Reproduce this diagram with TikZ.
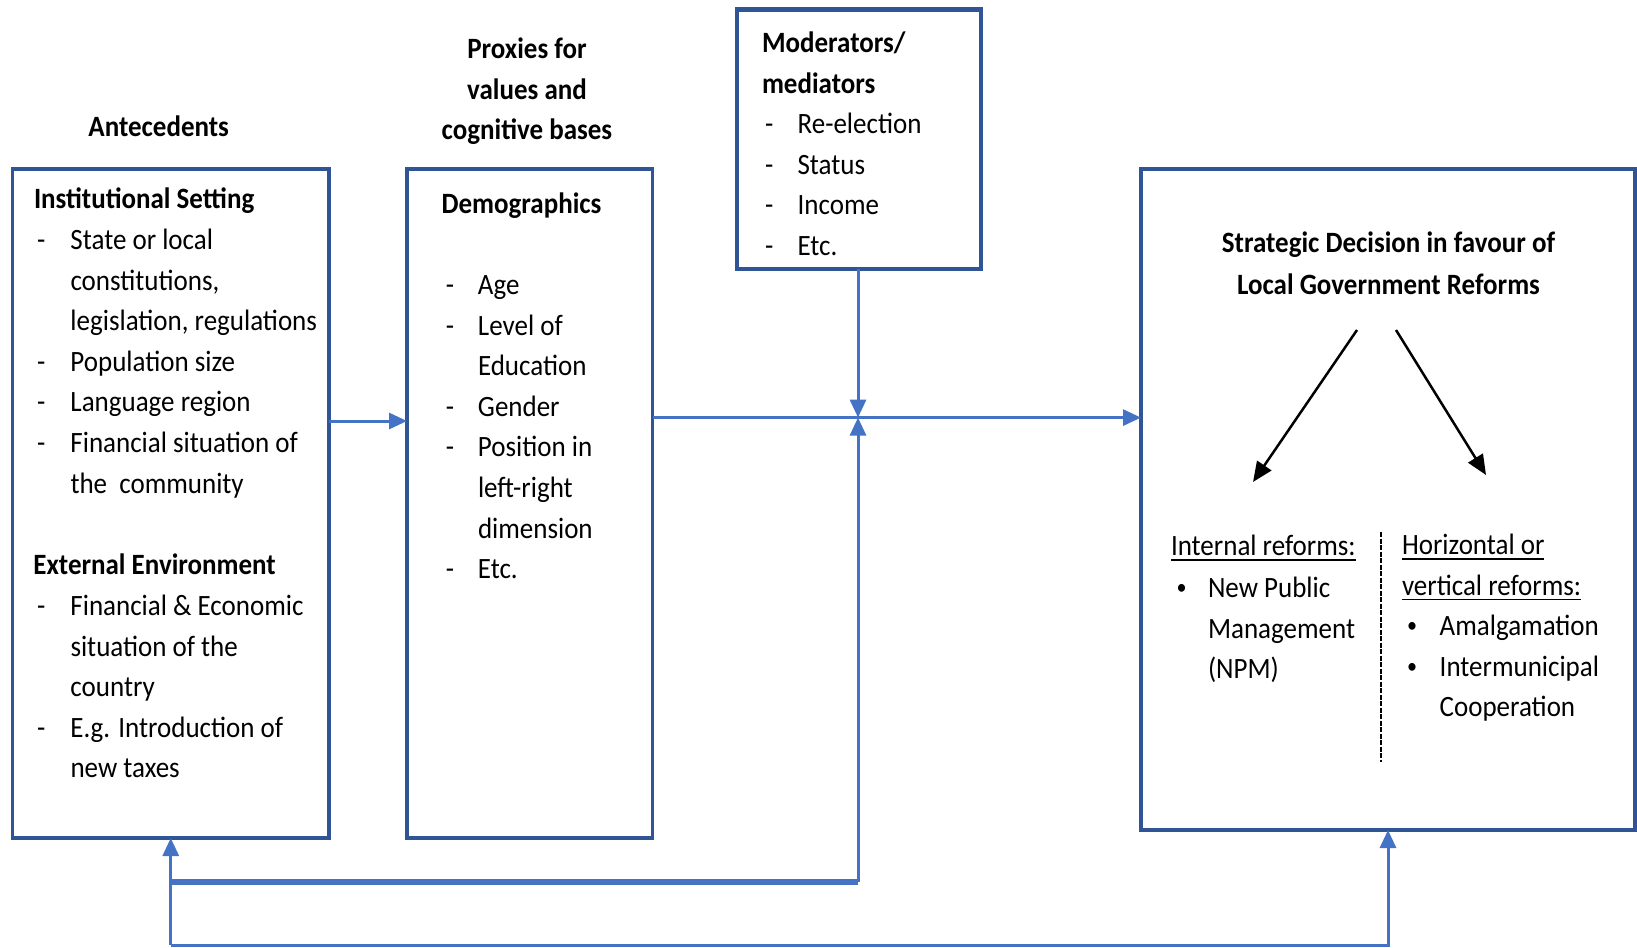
\documentclass[tikz,border=0pt]{standalone}
\usepackage{fontspec}
\setmainfont{Carlito}[FakeStretch=0.915]
\usetikzlibrary{arrows.meta}

\definecolor{boxblue}{HTML}{2F5597}
\definecolor{linkblue}{HTML}{4472C4}

% underline drawn as a rule under the word
\newcommand\ulword[1]{\setbox0=\hbox{#1}\rlap{\rule[-5pt]{\wd0}{1.3pt}}\box0}
% small list bullet
\newcommand\smbullet{\raisebox{3pt}{\fontsize{22}{22}\selectfont\textbullet}}

\tikzset{
  frame/.style={draw=boxblue, line width=3.2pt, inner sep=0pt, outer sep=0pt, anchor=north west},
  link/.style={draw=linkblue, line width=3pt, -{Triangle[length=18pt,width=16pt]}},
  txt/.style={inner sep=0pt, outer sep=0pt, anchor=base west, font=\fontsize{29.5}{40.6}\selectfont},
  ctxt/.style={txt, anchor=base},
  blackarrow/.style={draw=black, line width=2.5pt, -{Triangle[length=20pt,width=17pt]}},
  divider/.style={draw=black, line width=2pt, dash pattern=on 5pt off 1.5pt},
}

\begin{document}
\begin{tikzpicture}[x=1pt, y=-1pt]
\useasboundingbox (0,0) rectangle (1637,947);

% boxes
\node[frame, minimum width=316.5pt, minimum height=669pt] (inst) at (12.5,169) {};
\node[frame, minimum width=245.5pt, minimum height=669pt] (demo) at (407,169) {};
\node[frame, line width=4.5pt, minimum width=244pt, minimum height=259.6pt] (mod) at (737,9.4) {};
\node[frame, minimum width=494pt, minimum height=661pt] (dec) at (1141,169) {};

% column headings
\node[ctxt] (antec) at (158.7,136.5) {\bfseries Antecedents};
\node[ctxt] (prox) at (527,58.5) {\bfseries\begin{tabular}[t]{@{}c@{}}Proxies for\\values and\\cognitive bases\end{tabular}};

% antecedents box
\node[txt] (insttitle) at (34,208.5) {\bfseries Institutional Setting};
\node[txt] (instlist) at (37,249.5) {\begin{tabular}[t]{@{}p{33.5pt}@{}l@{}}
- & State or local\\
 & constitutions,\\
 & legislation, regulations\\
- & Population size\\
- & Language region\\
- & Financial situation of\\
 & the~~community
\end{tabular}};
\node[txt] (exttitle) at (33.4,574.5) {\bfseries External Environment};
\node[txt] (extlist) at (37,615.5) {\begin{tabular}[t]{@{}p{33.5pt}@{}l@{}}
- & Financial \& Economic\\
 & situation of the\\
 & country\\
- & E.g. Introduction of\\
 & new taxes
\end{tabular}};

% demographics box
\node[txt] (demotitle) at (441.6,213.5) {\bfseries Demographics};
\node[txt] (demolist) at (445.8,294.5) {\begin{tabular}[t]{@{}p{32.2pt}@{}l@{}}
- & Age\\
- & Level of\\
 & Education\\
- & Gender\\
- & Position in\\
 & left-right\\
 & dimension\\
- & Etc.
\end{tabular}};

% moderators box
\node[txt] (modtitle) at (762,52.5) {\bfseries\begin{tabular}[t]{@{}l@{}}Moderators/\\mediators\end{tabular}};
\node[txt] (modlist) at (765,133.5) {\begin{tabular}[t]{@{}p{32.6pt}@{}l@{}}
- & Re-election\\
- & Status\\
- & Income\\
- & Etc.
\end{tabular}};

% decision box
\node[ctxt] (dectitle) at (1388.5,252.5) {\bfseries\begin{tabular}[t]{@{}c@{}}Strategic Decision in favour of\\[1.5pt]Local Government Reforms\end{tabular}};
\node[txt] (inttitle) at (1171,555.5) {\ulword{Internal reforms:}};
\node[txt] (intlist) at (1176.6,597.5) {\begin{tabular}[t]{@{}p{31.4pt}@{}l@{}}
\smbullet & New Public\\
 & Management\\
 & (NPM)
\end{tabular}};
\node[txt] (hortitle) at (1402,554.5) {\begin{tabular}[t]{@{}l@{}}\ulword{Horizontal or}\\\ulword{vertical reforms:}\end{tabular}};
\node[txt] (horlist) at (1407,635.5) {\begin{tabular}[t]{@{}p{32.7pt}@{}l@{}}
\smbullet & Amalgamation\\
\smbullet & Intermunicipal\\
 & Cooperation
\end{tabular}};

% arrows inside the decision box
\coordinate (la) at (1357,330);
\coordinate (lb) at (1253,482);
\coordinate (ra) at (1396,330);
\coordinate (rb) at (1486,475);
\draw[blackarrow] (la) -- (lb);
\draw[blackarrow] (ra) -- (rb);
\coordinate (dvtop) at (1381,532);
\coordinate (dvbot) at (1381,762);
\draw[divider] (dvtop) -- (dvbot);

% connectors
\coordinate (yA) at (0,421);
\coordinate (yB) at (0,417.6);
\coordinate (jn) at (858,417.6);
\coordinate (yC) at (0,882);
\coordinate (yD) at (0,945);

\draw[link] (inst.east |- yA) -- (demo.west |- yA);
\draw[link] (demo.east |- yB) -- (dec.west |- yB);
\draw[link] (jn |- mod.south) -- (jn);
\draw[link] (jn |- yC) -- (jn);
\draw[draw=linkblue, line width=6pt] (inst.south |- yC) -- (jn |- yC);
\draw[link] (inst.south |- yD) -- (inst.south);
\draw[link] (inst.south |- yD) -- (dec.south |- yD) -- (dec.south);
\end{tikzpicture}
\end{document}
